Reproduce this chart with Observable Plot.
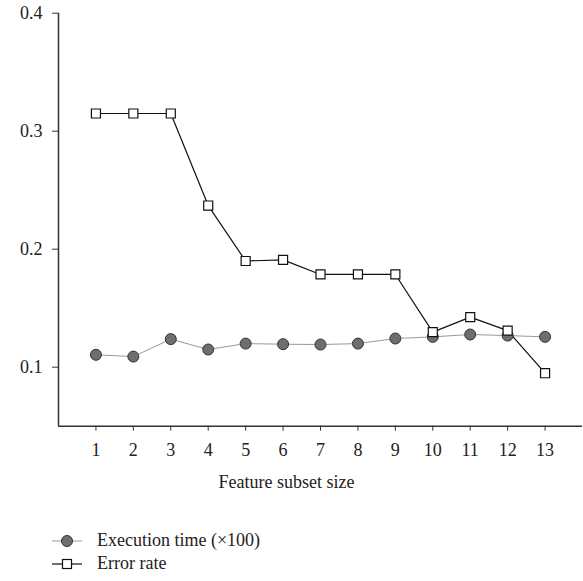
<!DOCTYPE html>
<html>
<head>
<meta charset="utf-8">
<script src="https://cdn.jsdelivr.net/npm/d3@7"></script>
<script src="https://cdn.jsdelivr.net/npm/@observablehq/plot@0.6"></script>
<style>
  html, body { margin: 0; padding: 0; background: #fff; }
  #chart svg { display: block; }
  .legend { font-family: "Liberation Serif", "DejaVu Serif", serif; font-size: 18px; color: #222; margin-top: 29px; }
  .legend .row { display: flex; align-items: center; height: 23px; }
  .legend svg { margin-left: 51px; margin-right: 14px; }
</style>
</head>
<body>
<div id="chart"></div>
<div class="legend">
  <div class="row"><svg width="32" height="14"><line x1="1" y1="7" x2="31" y2="7" stroke="#999" stroke-width="1"/><circle cx="16" cy="7" r="5.5" fill="#6e6e6e" stroke="#333" stroke-width="1"/></svg><span>Execution time (×100)</span></div>
  <div class="row"><svg width="32" height="14"><line x1="1" y1="7" x2="31" y2="7" stroke="#111" stroke-width="1.2"/><rect x="11.5" y="2.5" width="9" height="9" fill="#fff" stroke="#111" stroke-width="1.2"/></svg><span>Error rate</span></div>
</div>
<script>
const subsetSizes = [1, 2, 3, 4, 5, 6, 7, 8, 9, 10, 11, 12, 13];
const executionTime = [0.1105, 0.109, 0.1238, 0.115, 0.120, 0.1195, 0.1192, 0.120, 0.1243, 0.1257, 0.1277, 0.1268, 0.1257];
const errorRate = [0.315, 0.315, 0.315, 0.237, 0.190, 0.191, 0.1786, 0.1786, 0.1786, 0.1297, 0.1424, 0.131, 0.0949];
const yTicks = [0.1, 0.2, 0.3, 0.4];
const xLabel = ["Feature subset size"];

const exec = subsetSizes.map((x, i) => ({x, y: executionTime[i]}));
const err = subsetSizes.map((x, i) => ({x, y: errorRate[i]}));

const chart = Plot.plot({
  width: 583,
  height: 500,
  marginTop: 12.7,
  marginBottom: 74.3,
  marginLeft: 58,
  marginRight: 1,
  style: { fontFamily: "\"Liberation Serif\", \"DejaVu Serif\", serif", fontSize: "18px", color: "#222", background: "#fff" },
  x: { domain: [0, 14] },
  y: { domain: [0.05, 0.4] },
  marks: [
    Plot.axisY({ ticks: yTicks, tickFormat: d => d.toFixed(1), tickSize: 6, tickPadding: 10, label: null, stroke: "#333", fontSize: 18 }),
    Plot.axisX({ ticks: subsetSizes, tickFormat: d => String(d), tickSize: 5, tickPadding: 12.5, label: null, stroke: "#333", fontSize: 18 }),
    Plot.text(xLabel, { text: d => d, frameAnchor: "bottom", dx: -34, dy: 56.5, lineAnchor: "middle", fontSize: 18, fill: "#222" }),
    Plot.ruleX([0], { stroke: "#333", strokeWidth: 1.5 }),
    Plot.ruleY([0.05], { stroke: "#333", strokeWidth: 1.5 }),
    Plot.line(exec, { x: "x", y: "y", stroke: "#999", strokeWidth: 1 }),
    Plot.line(err, { x: "x", y: "y", stroke: "#111", strokeWidth: 1.2 }),
    Plot.dot(exec, { x: "x", y: "y", r: 5.5, fill: "#6e6e6e", stroke: "#333", strokeWidth: 1 }),
    Plot.dot(err, { x: "x", y: "y", symbol: "square", r: 5.1, fill: "#fff", stroke: "#111", strokeWidth: 1.2 })
  ]
});
document.getElementById("chart").appendChild(chart);
</script>
</body>
</html>
